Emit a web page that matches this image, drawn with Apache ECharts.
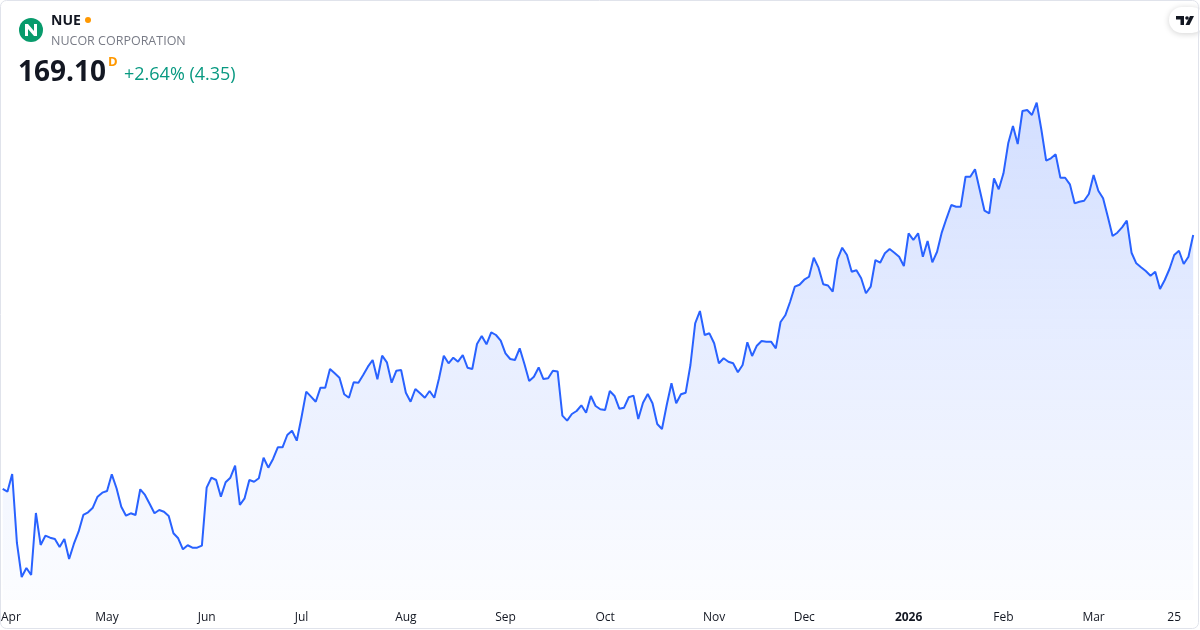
<!DOCTYPE html>
<html>
<head>
<meta charset="utf-8">
<script src="https://cdn.jsdelivr.net/npm/echarts@6/dist/echarts.min.js"></script>
<style>
  html, body { margin: 0; padding: 0; background: #fff; }
  #chart { width: 1200px; height: 630px; }
</style>
</head>
<body>
<div id="chart"></div>
<script>
// trading days, 2025-03-31 .. 2026-03-31
const startDay = "2025-03-31";
const endDay = "2026-03-31";
const holidays = ["2025-04-18", "2025-05-26", "2025-06-19", "2025-07-04", "2025-09-01",
  "2025-11-27", "2025-12-25", "2026-01-01", "2026-01-19", "2026-02-16"];

// daily close, NUE
const closes = [
  118.20, 117.66, 121.20, 107.38, 100.56, 102.37, 100.96, 113.39, 106.98, 108.84,
  108.44, 108.18, 106.58, 108.18, 104.17, 107.18, 109.64, 112.99, 113.53, 114.45,
  116.66, 117.46, 117.80, 121.14, 118.34, 114.65, 112.85, 113.33, 112.99, 118.14,
  117.00, 115.19, 113.33, 113.99, 113.65, 112.79, 109.32, 108.32, 106.11, 106.92,
  106.44, 106.44, 106.84, 118.46, 120.46, 120.00, 116.66, 119.54, 120.46, 122.87,
  114.99, 116.33, 120.00, 119.66, 120.34, 124.47, 122.47, 124.21, 126.56, 126.56,
  129.02, 129.88, 127.88, 132.57, 137.70, 136.70, 135.69, 138.50, 138.50, 142.25,
  141.38, 140.50, 137.18, 136.49, 139.58, 139.50, 141.04, 142.71, 144.05, 140.18,
  144.91, 143.59, 139.50, 141.91, 142.05, 137.50, 135.69, 138.24, 137.38, 136.49,
  137.84, 136.49, 140.38, 144.91, 143.39, 144.51, 143.71, 145.05, 142.51, 142.25,
  147.26, 148.86, 147.20, 149.60, 149.06, 147.92, 145.39, 144.25, 144.05, 146.39,
  143.25, 139.84, 140.70, 142.55, 140.24, 140.38, 141.91, 141.75, 132.89, 131.89,
  133.23, 133.83, 134.97, 133.49, 136.84, 134.83, 134.17, 134.03, 137.84, 136.84,
  134.29, 134.49, 136.58, 136.90, 132.23, 135.49, 137.24, 135.37, 131.22, 130.22,
  135.03, 139.38, 135.37, 137.18, 137.50, 143.05, 151.40, 153.87, 149.06, 149.40,
  147.40, 143.39, 144.39, 143.71, 143.39, 141.59, 143.05, 147.60, 144.85, 146.92,
  147.86, 147.72, 147.72, 146.39, 151.67, 153.01, 155.67, 158.74, 159.14, 160.14,
  160.74, 164.55, 162.55, 159.22, 158.98, 157.74, 164.23, 166.55, 165.09, 161.75,
  162.03, 160.42, 157.42, 158.74, 164.09, 163.55, 165.43, 166.29, 165.55, 164.75,
  162.89, 169.44, 168.10, 169.44, 164.75, 167.90, 163.63, 165.75, 169.64, 172.45,
  175.11, 174.77, 174.77, 180.78, 180.78, 182.27, 178.12, 173.97, 173.45, 180.46,
  178.26, 181.46, 187.48, 190.94, 187.34, 193.95, 194.15, 193.15, 195.61, 190.14,
  183.99, 184.47, 185.27, 180.58, 180.58, 179.26, 175.45, 175.77, 175.97, 177.32,
  181.12, 177.98, 176.45, 172.77, 168.90, 169.56, 170.64, 171.97, 165.55, 163.43,
  162.63, 161.89, 160.94, 161.75, 158.28, 160.08, 162.29, 165.09, 165.95, 163.29,
  164.75, 169.10
];

// x tick labels: index into the trading days -> text
const tickIndex = [1, 22, 43, 63, 85, 106, 127, 150, 169, 191, 211, 230, 247];
const tickText = ["Apr", "May", "Jun", "Jul", "Aug", "Sep", "Oct", "Nov", "Dec", "2026", "Feb", "Mar", "25"];

const lastPrice = "169.10";
const changeText = "+2.64% (4.35)";

function tradingDays(from, to, skip) {
  const out = [];
  const d = new Date(from + "T00:00:00Z");
  const end = new Date(to + "T00:00:00Z");
  while (d <= end) {
    const s = d.toISOString().slice(0, 10);
    const wd = d.getUTCDay();
    if (wd !== 0 && wd !== 6 && skip.indexOf(s) < 0) out.push(s);
    d.setUTCDate(d.getUTCDate() + 1);
  }
  return out;
}

const days = tradingDays(startDay, endDay, holidays);
const tickMap = {};
tickIndex.forEach((idx, k) => { tickMap[idx] = tickText[k]; });

const chart = echarts.init(document.getElementById("chart"));
chart.setOption({
  animation: false,
  grid: { left: 2.7, right: 6.8, top: 95, bottom: 30, containLabel: false, outerBoundsMode: "none" },
  xAxis: {
    type: "category",
    boundaryGap: false,
    data: days,
    axisLine: { show: false },
    axisTick: { show: false },
    splitLine: { show: false },
    axisLabel: {
      margin: 12,
      fontSize: 12,
      fontFamily: "Open Sans",
      color: "#131722",
      interval: function (idx) { return tickMap[idx] !== undefined; },
      formatter: function (val, idx) {
        const t = tickMap[idx];
        if (t === "2026") return "{yr|" + t + "}";
        if (idx === 1) return "{first|" + t + "}";
        return t;
      },
      rich: {
        yr: { fontWeight: "bold", fontSize: 12, fontFamily: "Open Sans", color: "#131722" },
        first: { fontSize: 12, fontFamily: "Open Sans", color: "#131722", padding: [0, 0, 0, 7] }
      }
    }
  },
  yAxis: {
    type: "value",
    min: 95.95,
    max: 197.16,
    show: false,
    splitLine: { show: false }
  },
  series: [{
    type: "line",
    data: closes,
    symbol: "none",
    lineStyle: { color: "#2962ff", width: 2 },
    areaStyle: {
      color: {
        type: "linear", global: true,
        x: 0, y: 95, x2: 0, y2: 600,
        colorStops: [
          { offset: 0, color: "rgba(41,98,255,0.30)" },
          { offset: 1, color: "rgba(41,98,255,0.02)" }
        ]
      }
    }
  }],
  graphic: [
    { type: "rect", shape: { x: 0.5, y: 0.5, width: 1198, height: 628, r: 6 },
      style: { fill: "none", stroke: "#e0e3eb", lineWidth: 1 }, z: 100 },
    { type: "circle", shape: { cx: 31, cy: 30, r: 12 }, style: { fill: "#089b6c" } },
    { type: "polygon", shape: { points: [[25, 36], [25, 24], [28, 24], [34, 31], [34, 24], [37, 24], [37, 36], [34, 36], [28, 29], [28, 36]] },
      style: { fill: "#fff" } },
    { type: "text", x: 51, y: 21, style: { text: "NUE", fill: "#131722", font: "bold 14px 'Open Sans'", verticalAlign: "middle" } },
    { type: "circle", shape: { cx: 88, cy: 20, r: 3 }, style: { fill: "#ff9800" } },
    { type: "text", x: 51, y: 41, style: { text: "NUCOR CORPORATION", fill: "#787b86", font: "12.5px 'Open Sans'", verticalAlign: "middle" } },
    { type: "text", x: 18, y: 73, style: { text: lastPrice, fill: "#131722", font: "bold 28px 'Open Sans'", verticalAlign: "middle" } },
    { type: "text", x: 108, y: 62, style: { text: "D", fill: "#ff9800", font: "bold 13px 'Open Sans'", verticalAlign: "middle" } },
    { type: "text", x: 124, y: 75, style: { text: changeText, fill: "#089981", font: "18px 'Open Sans'", verticalAlign: "middle" } },
    { type: "rect", shape: { x: 1169, y: 7, width: 36, height: 26, r: 13 },
      style: { fill: "#fff", shadowBlur: 6, shadowColor: "rgba(0,0,0,0.18)", shadowOffsetY: 1 } },
    { type: "polygon", shape: { points: [[1176, 16], [1184, 16], [1184, 25], [1180.5, 25], [1180.5, 19.5], [1176, 19.5]] }, style: { fill: "#131722" } },
    { type: "circle", shape: { cx: 1187, cy: 18, r: 1.8 }, style: { fill: "#131722" } },
    { type: "polygon", shape: { points: [[1190, 16], [1194, 16], [1189.5, 25], [1185.5, 25]] }, style: { fill: "#131722" } }
  ]
});
</script>
</body>
</html>
